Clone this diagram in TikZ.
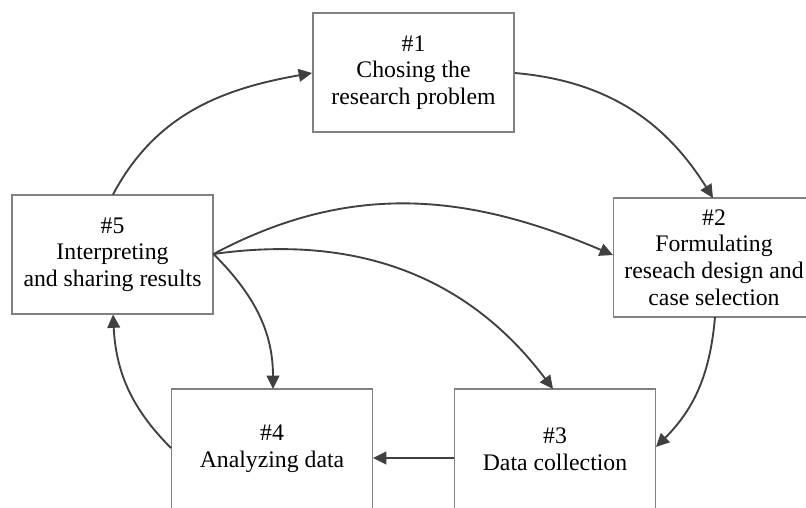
\documentclass[tikz,border=0pt]{standalone}
\usepackage{fontspec}
\setmainfont{Liberation Serif}
\usetikzlibrary{arrows.meta}
\begin{document}
\begin{tikzpicture}[x=0.75pt,y=-0.75pt,
  box/.style={draw=boxgray,line width=1.1pt,minimum width=151pt,minimum height=89pt,inner sep=0pt,align=center,
    font=\fontsize{17.8}{20}\selectfont,text=black},
  txt/.style={inner sep=0pt,align=center,font=\fontsize{17.8}{20}\selectfont,text=black},
  conn/.style={draw=arrgray,line width=1.4pt,-{Triangle[length=10pt,width=9.5pt]}}]
\definecolor{boxgray}{HTML}{808080}
\definecolor{arrgray}{HTML}{404040}
\useasboundingbox (0,0) rectangle (806,507);
\clip (0,0) rectangle (806,507);
\fill[white] (0,0) rectangle (806,507);
\node[box] (b1) at (413.5,72.5) {\#1\\Chosing the\\research problem};
\node[box] (b2) at (714,257.5) {\#2\\Formulating\\reseach design and\\case selection};
\node[box] (b5) at (112.5,254.5) {\#5\\Interpreting\\and sharing results};
\node[box,minimum height=110pt] (b4) at (272,462.3) {};
\node[box,minimum height=110pt] (b3) at (555,462.3) {};
\node[txt] (t4) at (272,448.5) {\#4\\Analyzing data};
\node[txt] (t3) at (555,449.5) {\#3\\Data collection};
\coordinate (b5t) at (113,194.5);
\coordinate (b5b) at (113,314.5);
\coordinate (b5r) at (213.5,254);
\coordinate (b1l) at (312,73);
\coordinate (b1r) at (515,73);
\coordinate (b2t) at (713,198);
\coordinate (b2b) at (715,317);
\coordinate (b2l) at (613,255);
\coordinate (b3r) at (656,447);
\coordinate (b3l) at (454,458);
\coordinate (b3t) at (553,389);
\coordinate (b4r) at (373,458);
\coordinate (b4l) at (171,448);
\coordinate (b4t) at (273,389);
\draw[conn] (b5t) to[out=62,in=190] (b1l);
\draw[conn] (b1r) to[out=-5,in=122] (b2t);
\draw[conn] (b2b) to[out=-95,in=45] (b3r);
\draw[conn] (b3l) -- (b4r);
\draw[conn] (b4l) to[out=135,in=-87] (b5b);
\draw[conn] (b5r) to[out=28,in=157] (b2l);
\draw[conn] (b5r) to[out=8,in=127] (b3t);
\draw[conn] (b5r) to[out=-45,in=90] (b4t);
\end{tikzpicture}
\end{document}
